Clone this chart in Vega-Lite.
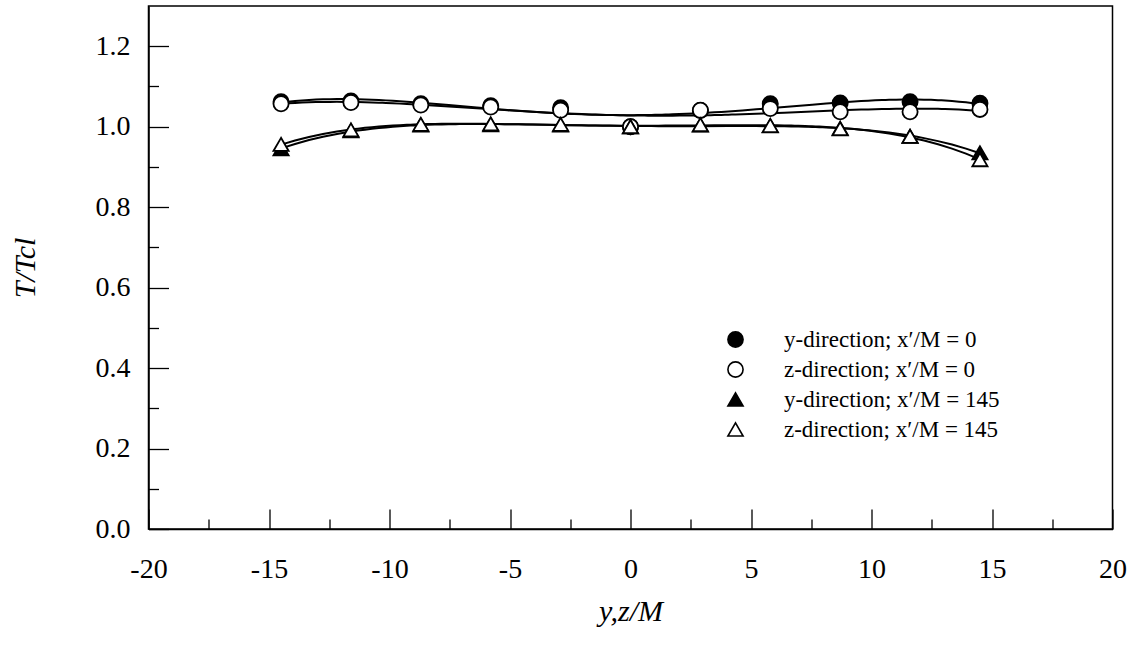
{
  "$schema": "https://vega.github.io/schema/vega-lite/v6.json",
  "width": 964,
  "height": 523,
  "autosize": "none",
  "padding": {"left": 148.5, "top": 6, "right": 21.5, "bottom": 129},
  "background": "white",
  "config": {
    "view": {"stroke": "black", "strokeWidth": 1.5},
    "font": "Liberation Serif",
    "axis": {"grid": false},
    "legend": {"symbolStrokeWidth": 1.6}
  },
  "datasets": {
    "pts": [
      {"series": "y-direction; x′/M = 0", "pos": -14.5, "T": 1.062},
      {"series": "y-direction; x′/M = 0", "pos": -11.6, "T": 1.064},
      {"series": "y-direction; x′/M = 0", "pos": -8.7, "T": 1.057},
      {"series": "y-direction; x′/M = 0", "pos": -5.8, "T": 1.052},
      {"series": "y-direction; x′/M = 0", "pos": -2.9, "T": 1.047},
      {"series": "y-direction; x′/M = 0", "pos": 0, "T": 1.0},
      {"series": "y-direction; x′/M = 0", "pos": 2.9, "T": 1.040},
      {"series": "y-direction; x′/M = 0", "pos": 5.8, "T": 1.057},
      {"series": "y-direction; x′/M = 0", "pos": 8.7, "T": 1.059},
      {"series": "y-direction; x′/M = 0", "pos": 11.6, "T": 1.062},
      {"series": "y-direction; x′/M = 0", "pos": 14.5, "T": 1.058},
      {"series": "z-direction; x′/M = 0", "pos": -14.5, "T": 1.057},
      {"series": "z-direction; x′/M = 0", "pos": -11.6, "T": 1.060},
      {"series": "z-direction; x′/M = 0", "pos": -8.7, "T": 1.054},
      {"series": "z-direction; x′/M = 0", "pos": -5.8, "T": 1.049},
      {"series": "z-direction; x′/M = 0", "pos": -2.9, "T": 1.041},
      {"series": "z-direction; x′/M = 0", "pos": 0, "T": 1.0},
      {"series": "z-direction; x′/M = 0", "pos": 2.9, "T": 1.041},
      {"series": "z-direction; x′/M = 0", "pos": 5.8, "T": 1.045},
      {"series": "z-direction; x′/M = 0", "pos": 8.7, "T": 1.037},
      {"series": "z-direction; x′/M = 0", "pos": 11.6, "T": 1.037},
      {"series": "z-direction; x′/M = 0", "pos": 14.5, "T": 1.043},
      {"series": "y-direction; x′/M = 145", "pos": -14.5, "T": 0.945},
      {"series": "y-direction; x′/M = 145", "pos": -11.6, "T": 0.990},
      {"series": "y-direction; x′/M = 145", "pos": -8.7, "T": 1.004},
      {"series": "y-direction; x′/M = 145", "pos": -5.8, "T": 1.005},
      {"series": "y-direction; x′/M = 145", "pos": -2.9, "T": 1.004},
      {"series": "y-direction; x′/M = 145", "pos": 0, "T": 1.0},
      {"series": "y-direction; x′/M = 145", "pos": 2.9, "T": 1.004},
      {"series": "y-direction; x′/M = 145", "pos": 5.8, "T": 1.002},
      {"series": "y-direction; x′/M = 145", "pos": 8.7, "T": 0.996},
      {"series": "y-direction; x′/M = 145", "pos": 11.6, "T": 0.976},
      {"series": "y-direction; x′/M = 145", "pos": 14.5, "T": 0.935},
      {"series": "z-direction; x′/M = 145", "pos": -14.5, "T": 0.956},
      {"series": "z-direction; x′/M = 145", "pos": -11.6, "T": 0.992},
      {"series": "z-direction; x′/M = 145", "pos": -8.7, "T": 1.006},
      {"series": "z-direction; x′/M = 145", "pos": -5.8, "T": 1.007},
      {"series": "z-direction; x′/M = 145", "pos": -2.9, "T": 1.006},
      {"series": "z-direction; x′/M = 145", "pos": 0, "T": 1.0},
      {"series": "z-direction; x′/M = 145", "pos": 2.9, "T": 1.005},
      {"series": "z-direction; x′/M = 145", "pos": 5.8, "T": 1.003},
      {"series": "z-direction; x′/M = 145", "pos": 8.7, "T": 0.995},
      {"series": "z-direction; x′/M = 145", "pos": 11.6, "T": 0.976},
      {"series": "z-direction; x′/M = 145", "pos": 14.5, "T": 0.918}
    ]
  },
  "layer": [
    {
      "data": {"name": "pts"},
      "transform": [
        {"regression": "T", "on": "pos", "groupby": ["series"], "method": "poly", "order": 4}
      ],
      "mark": {"type": "line", "color": "black", "strokeWidth": 2},
      "encoding": {
        "x": {
          "field": "pos", "type": "quantitative",
          "scale": {"domain": [-20, 20], "nice": false, "zero": false},
          "axis": {
            "orient": "bottom",
            "values": [-20, -15, -10, -5, 0, 5, 10, 15, 20],
            "domainColor": "black", "domainWidth": 1.5,
            "tickColor": "black", "tickWidth": 1.3,
            "tickSize": -20, "labelPadding": 46,
            "labelFont": "Liberation Serif", "labelFontSize": 28, "labelColor": "black",
            "labelFlush": false, "labelOverlap": false,
            "labelExpr": "'' + datum.value",
            "title": "y,z/M", "titlePadding": 13,
            "titleFont": "Liberation Serif", "titleFontSize": 30, "titleFontStyle": "italic",
            "titleFontWeight": "normal", "titleColor": "black"
          }
        },
        "y": {
          "field": "T", "type": "quantitative",
          "scale": {"domain": [0, 1.3], "nice": false, "zero": false},
          "axis": {
            "orient": "left",
            "values": [0, 0.2, 0.4, 0.6, 0.8, 1.0, 1.2],
            "format": ".1f",
            "domainColor": "black", "domainWidth": 1.5,
            "tickColor": "black", "tickWidth": 1.3,
            "tickSize": -20, "labelPadding": 38.5,
            "labelFont": "Liberation Serif", "labelFontSize": 28, "labelColor": "black",
            "labelFlush": false, "labelOverlap": false,
            "title": "T/Tcl", "titlePadding": 55,
            "titleFont": "Liberation Serif", "titleFontSize": 30, "titleFontStyle": "italic",
            "titleFontWeight": "normal", "titleColor": "black"
          }
        },
        "detail": {"field": "series", "type": "nominal"}
      }
    },
    {
      "data": {"name": "pts"},
      "mark": {"type": "point", "strokeWidth": 1.8, "opacity": 1, "fillOpacity": 1, "strokeOpacity": 1},
      "encoding": {
        "x": {
          "field": "pos", "type": "quantitative",
          "axis": {
            "orient": "bottom",
            "values": [-17.5, -12.5, -7.5, -2.5, 2.5, 7.5, 12.5, 17.5],
            "tickColor": "black", "tickWidth": 1.3,
            "tickSize": -10, "labels": false, "domain": false, "title": null
          }
        },
        "y": {
          "field": "T", "type": "quantitative",
          "axis": {
            "orient": "left",
            "values": [0.1, 0.3, 0.5, 0.7, 0.9, 1.1],
            "tickColor": "black", "tickWidth": 1.3,
            "tickSize": -10, "labels": false, "domain": false, "title": null
          }
        },
        "shape": {
          "field": "series", "type": "nominal",
          "scale": {
            "domain": ["y-direction; x′/M = 0", "z-direction; x′/M = 0", "y-direction; x′/M = 145", "z-direction; x′/M = 145"],
            "range": ["circle", "circle", "triangle-up", "triangle-up"]
          },
          "legend": {
            "title": null, "orient": "none", "legendX": 575.5, "legendY": 322, "padding": 0,
            "labelFont": "Liberation Serif", "labelFontSize": 23, "labelColor": "black",
            "labelOffset": 37, "rowPadding": 6, "labelLimit": 500, "symbolStrokeWidth": 1.6
          }
        },
        "fill": {
          "field": "series", "type": "nominal",
          "scale": {
            "domain": ["y-direction; x′/M = 0", "z-direction; x′/M = 0", "y-direction; x′/M = 145", "z-direction; x′/M = 145"],
            "range": ["black", "white", "black", "white"]
          },
          "legend": {
            "title": null, "orient": "none", "legendX": 575.5, "legendY": 322, "padding": 0,
            "labelFont": "Liberation Serif", "labelFontSize": 23, "labelColor": "black",
            "labelOffset": 37, "rowPadding": 6, "labelLimit": 500, "symbolStrokeWidth": 1.6
          }
        },
        "stroke": {
          "field": "series", "type": "nominal",
          "scale": {
            "domain": ["y-direction; x′/M = 0", "z-direction; x′/M = 0", "y-direction; x′/M = 145", "z-direction; x′/M = 145"],
            "range": ["black", "black", "black", "black"]
          },
          "legend": {
            "title": null, "orient": "none", "legendX": 575.5, "legendY": 322, "padding": 0,
            "labelFont": "Liberation Serif", "labelFontSize": 23, "labelColor": "black",
            "labelOffset": 37, "rowPadding": 6, "labelLimit": 500, "symbolStrokeWidth": 1.6
          }
        },
        "size": {
          "field": "series", "type": "nominal",
          "scale": {
            "domain": ["y-direction; x′/M = 0", "z-direction; x′/M = 0", "y-direction; x′/M = 145", "z-direction; x′/M = 145"],
            "range": [230, 230, 310, 310]
          },
          "legend": {
            "title": null, "orient": "none", "legendX": 575.5, "legendY": 322, "padding": 0,
            "labelFont": "Liberation Serif", "labelFontSize": 23, "labelColor": "black",
            "labelOffset": 37, "rowPadding": 6, "labelLimit": 500, "symbolStrokeWidth": 1.6
          }
        }
      }
    }
  ],
  "resolve": {"axis": {"x": "independent", "y": "independent"}}
}
